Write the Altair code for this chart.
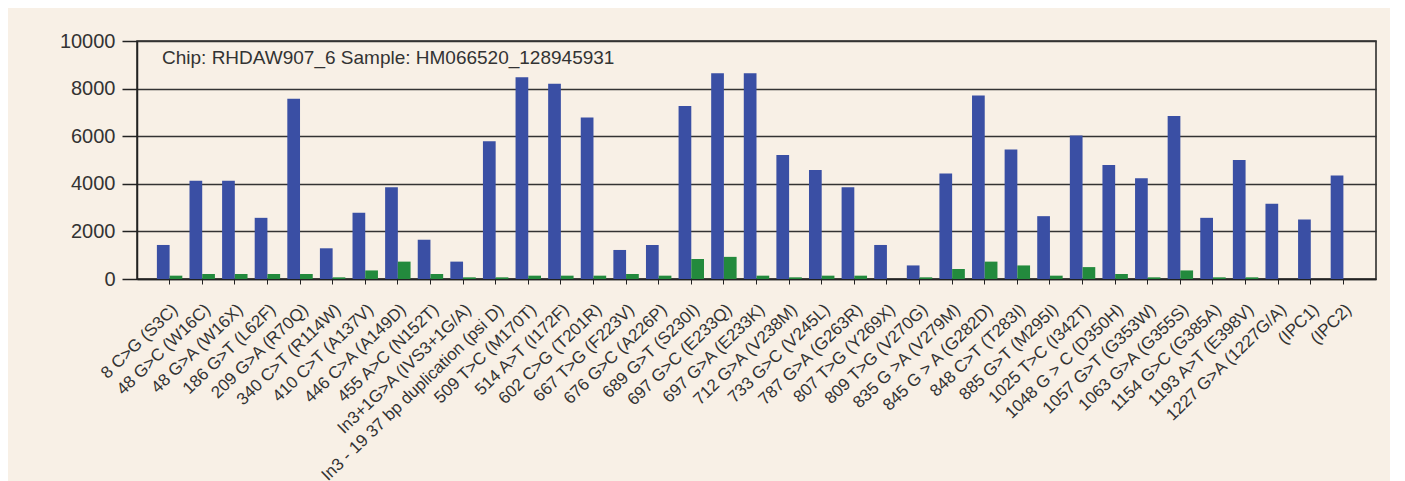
import altair as alt
import pandas as pd

categories = [
    "8 C>G (S3C)", "48 G>C (W16C)", "48 G>A (W16X)", "186 G>T (L62F)", "209 G>A  (R70Q)",
    "340 C>T (R114W)", "410 C>T (A137V)", "446 C>A (A149D)", "455 A>C (N152T)",
    "In3+1G>A (IVS3+1G/A)", "In3 - 19 37 bp duplication (psi D)", "509 T>C (M170T)",
    "514 A>T (I172F)", "602 C>G (T201R)", "667 T>G (F223V)", "676 G>C (A226P)",
    "689 G>T (S230I)", "697 G>C (E233Q)", "697 G>A (E233K)", "712 G>A (V238M)",
    "733 G>C (V245L)", "787 G>A (G263R)", "807 T>G (Y269X)", "809 T>G  (V270G)",
    "835 G >A (V279M)", "845 G > A (G282D)", "848 C>T (T283I)", "885 G>T (M295I)",
    "1025 T>C (I342T)", "1048 G > C  (D350H)", "1057 G>T (G353W)", "1063 G>A (G355S)",
    "1154 G>C (G385A)", "1193 A>T (E398V)", "1227 G>A (1227G/A)", "(IPC1)", "(IPC2)",
]
blue_values = [
    1430, 4130, 4130, 2570, 7570, 1290, 2780, 3860, 1650, 730, 5790, 8480,
    8200, 6790, 1220, 1430, 7270, 8640, 8640, 5210, 4580, 3860, 1430, 570,
    4430, 7710, 5440, 2640, 6030, 4790, 4230, 6850, 2570, 5000, 3160, 2500, 4350,
]
green_values = [
    140, 210, 210, 210, 210, 70, 360, 730, 210, 70, 70, 140,
    140, 140, 210, 140, 840, 930, 140, 70, 140, 140, 0, 70,
    420, 730, 570, 140, 500, 210, 70, 360, 70, 70, 0, 0, 0,
]
series_names = ["Blue", "Green"]
series_colors = ["#3a4fa4", "#238a3d"]
y_ticks = [0, 2000, 4000, 6000, 8000, 10000]
annotation = "Chip: RHDAW907_6  Sample: HM066520_128945931"

rows = []
for c, b, g in zip(categories, blue_values, green_values):
    rows.append({"category": c, "series": series_names[0], "value": b})
    rows.append({"category": c, "series": series_names[1], "value": g})
df = pd.DataFrame(rows)

FONT = "Liberation Sans"

bars = alt.Chart(df).mark_bar().encode(
    x=alt.X(
        "category:N",
        sort=categories,
        scale=alt.Scale(paddingInner=0.22, paddingOuter=0.61),
        axis=alt.Axis(
            title=None,
            labelAngle=-44,
            labelFontSize=17,
            labelFont=FONT,
            labelColor="#333333",
            labelPadding=17,
            labelLimit=400,
            tickSize=5,
            tickColor="#222222",
            domainColor="#222222",
            domainWidth=1.5,
            grid=False,
            labelOverlap=False,
        ),
    ),
    xOffset=alt.XOffset("series:N", sort=series_names),
    y=alt.Y(
        "value:Q",
        scale=alt.Scale(domain=[0, 10000], nice=False),
        axis=alt.Axis(
            title=None,
            values=y_ticks,
            format="d",
            labelFontSize=20,
            labelFont=FONT,
            labelColor="#333333",
            labelPadding=7,
            tickSize=15,
            tickColor="#222222",
            tickWidth=1.5,
            domainColor="#222222",
            domainWidth=1.5,
            grid=True,
            gridColor="#333333",
            gridWidth=1.5,
        ),
    ),
    color=alt.Color(
        "series:N",
        scale=alt.Scale(domain=series_names, range=series_colors),
        legend=None,
    ),
)

text = alt.Chart(pd.DataFrame({"label": [annotation]})).mark_text(
    align="left", baseline="alphabetic", fontSize=19, font=FONT, color="#333333"
).encode(
    x=alt.value(25),
    y=alt.value(23),
    text="label:N",
)

chart = alt.layer(bars, text).properties(
    width=1239,
    height=238,
    background="#f8f0e6",
    padding={"left": 129, "top": 33, "right": 14, "bottom": 202},
    autosize=alt.AutoSizeParams(type="none"),
).configure_view(
    stroke="#222222",
    strokeWidth=1.5,
)

chart.save("out.html", embed_options={"renderer": "svg", "actions": False})
